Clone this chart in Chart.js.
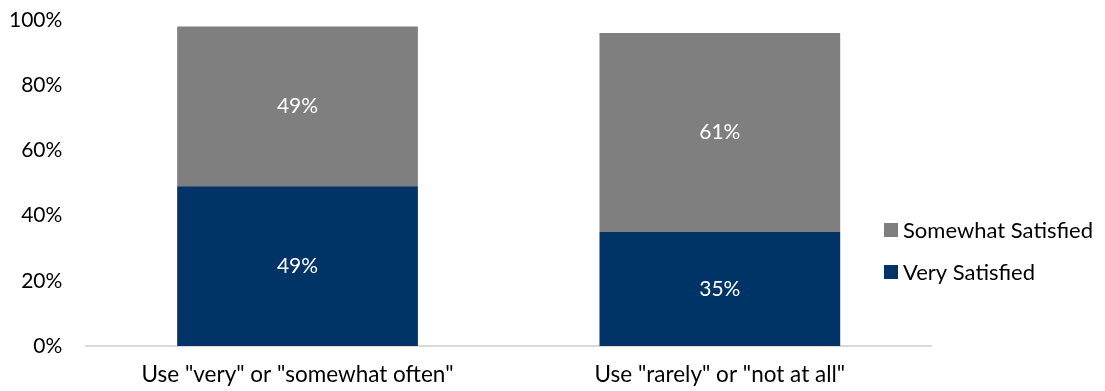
<!DOCTYPE html>
<html>
<head>
<meta charset="utf-8">
<script src="https://cdn.jsdelivr.net/npm/chart.js@4/dist/chart.umd.min.js"></script>
<style>
  html, body { margin: 0; padding: 0; background: #fff; }
  #wrap { width: 1105px; height: 391px; }
</style>
</head>
<body>
<div id="wrap"><canvas id="satisfaction"></canvas></div>
<script>
var categories = ['Use "very" or "somewhat often"', 'Use "rarely" or "not at all"'];
var verySatisfied = [49, 35];
var somewhatSatisfied = [49, 61];
var yTicks = [0, 20, 40, 60, 80, 100];

var FONT = "Lato";
var SIZE = 21;

// white value labels in the middle of each segment
var valueLabels = {
  id: 'valueLabels',
  afterDatasetsDraw: function (chart) {
    var ctx = chart.ctx;
    ctx.save();
    ctx.font = SIZE + 'px ' + FONT;
    ctx.fillStyle = '#ffffff';
    ctx.textAlign = 'center';
    ctx.textBaseline = 'middle';
    chart.data.datasets.forEach(function (ds, i) {
      chart.getDatasetMeta(i).data.forEach(function (bar, j) {
        ctx.fillText(ds.data[j] + '%', bar.x, (bar.y + bar.base) / 2);
      });
    });
    ctx.restore();
  }
};

// legend on the right, drawn over the plot edge like the original
var sideLegend = {
  id: 'sideLegend',
  afterDraw: function (chart) {
    var ctx = chart.ctx;
    var area = chart.chartArea;
    var items = chart.data.datasets.slice().reverse();
    ctx.save();
    ctx.font = '22px ' + FONT;
    ctx.textBaseline = 'middle';
    ctx.textAlign = 'left';
    items.forEach(function (ds, k) {
      var cy = area.bottom - 116 + k * 42;
      var bx = area.right - 47;
      ctx.fillStyle = ds.backgroundColor;
      ctx.fillRect(bx, cy - 7, 14, 14);
      ctx.fillStyle = '#000000';
      ctx.fillText(ds.label, bx + 19, cy + 1);
    });
    ctx.restore();
  }
};

new Chart(document.getElementById("satisfaction"), {
  type: 'bar',
  data: {
    labels: categories,
    datasets: [
      {
        label: "Very Satisfied",
        backgroundColor: "#003366",
        data: verySatisfied
      },
      {
        label: "Somewhat Satisfied",
        backgroundColor: "#7f7f7f",
        data: somewhatSatisfied
      }
    ]
  },
  plugins: [valueLabels, sideLegend],
  options: {
    responsive: true,
    maintainAspectRatio: false,
    animation: false,
    layout: { padding: { top: 0, right: 174, left: -7, bottom: -4 } },
    plugins: {
      legend: { display: false },
      title: { display: false },
      tooltip: { enabled: false }
    },
    datasets: {
      bar: { barPercentage: 0.57, categoryPercentage: 1.0 }
    },
    scales: {
      x: {
        stacked: true,
        grid: { display: false },
        border: { display: true, color: '#d9d9d9', width: 2 },
        ticks: { color: '#000', padding: 7, font: { family: FONT, size: 22.5 } }
      },
      y: {
        stacked: true,
        min: 0,
        max: 100,
        afterBuildTicks: function (axis) {
          axis.ticks = yTicks.map(function (v) { return { value: v }; });
        },
        grid: { display: false },
        border: { display: false },
        ticks: {
          color: '#000',
          padding: 16,
          font: { family: FONT, size: SIZE, lineHeight: 0.38 },
          callback: function (v) { return v + '%'; }
        }
      }
    }
  }
});
</script>
</body>
</html>
